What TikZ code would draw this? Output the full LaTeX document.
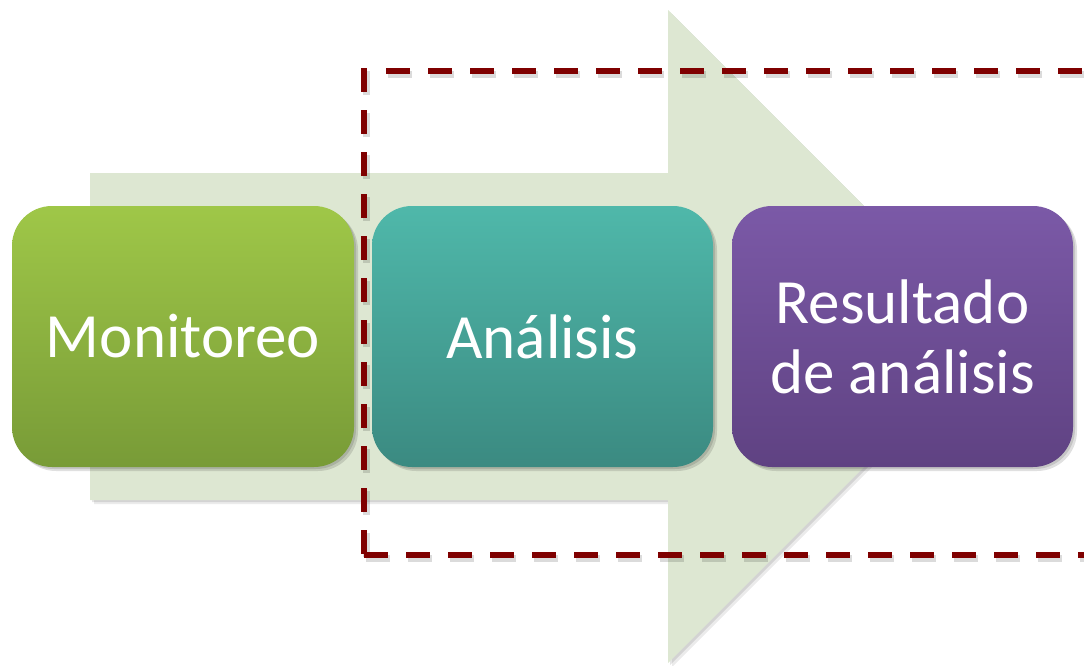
\documentclass[tikz,border=0pt]{standalone}
\usepackage{fontspec}
\setmainfont{Carlito}
\definecolor{arrowfill}{HTML}{DDE7D2}
\definecolor{gtop}{HTML}{9FC748}
\definecolor{gbot}{HTML}{789B37}
\definecolor{ttop}{HTML}{4FB8AA}
\definecolor{tbot}{HTML}{3B8A81}
\definecolor{ptop}{HTML}{7B59A7}
\definecolor{pbot}{HTML}{5F4282}
\definecolor{dashred}{HTML}{7F0000}
\tikzset{
  stepbox/.style={rounded corners=40pt, minimum width=342pt, minimum height=261pt,
    inner sep=0pt, text=white, align=center,
    font=\fontsize{63}{70}\selectfont},
  boxshadow/.style={fill=black, opacity=0.12, rounded corners=40pt},
  dashline/.style={dashred, line width=6pt, dash pattern=on 24pt off 18pt},
  dashshadow/.style={black, opacity=0.14, line width=7pt, dash pattern=on 24pt off 18pt},
}
\begin{document}
\begin{tikzpicture}[x=1pt,y=-1pt]
\useasboundingbox (0,0) rectangle (1084,665);
\clip (0,0) rectangle (1084,665);
% arrow shadow
\fill[black, opacity=0.10, shift={(2,2)}]
  (90,173) -- (668,173) -- (668,10) -- (994.5,336.5) -- (668,663) -- (668,500) -- (90,500) -- cycle;
\fill[black, opacity=0.08, shift={(4,4)}]
  (90,173) -- (668,173) -- (668,10) -- (994.5,336.5) -- (668,663) -- (668,500) -- (90,500) -- cycle;
% big arrow
\fill[arrowfill]
  (90,173) -- (668,173) -- (668,10) -- (994.5,336.5) -- (668,663) -- (668,500) -- (90,500) -- cycle;
% box shadows
\foreach \d in {2,4}{
  \fill[boxshadow] (12+\d,206+\d) rectangle (354+\d,467+\d);
  \fill[boxshadow] (372+\d,206+\d) rectangle (713+\d,467+\d);
  \fill[boxshadow] (732+\d,206+\d) rectangle (1073+\d,467+\d);
}
% boxes
\node[stepbox, top color=gtop, bottom color=gbot] (mon) at (183,336.5) {Monitoreo};
\node[stepbox, minimum width=341pt, top color=ttop, bottom color=tbot] (ana) at (542.5,336.5) {Análisis};
\node[stepbox, minimum width=341pt, top color=ptop, bottom color=pbot] (res) at (902.5,336.5) {Resultado\\de análisis};
% dashed frame shadow
\draw[dashshadow] (366,71) -- (366,558);
\draw[dashshadow] (366,558) -- (1090,558);
\draw[dashshadow] (388,74) -- (1090,74);
% dashed frame
\coordinate (tl) at (364,68);
\coordinate (bl) at (364,555);
\coordinate (br) at (1090,555);
\coordinate (tt) at (386,71);
\coordinate (tr) at (1090,71);
\draw[dashline] (tl) -- (bl);
\draw[dashline] (bl) -- (br);
\draw[dashline] (tt) -- (tr);
\end{tikzpicture}
\end{document}
